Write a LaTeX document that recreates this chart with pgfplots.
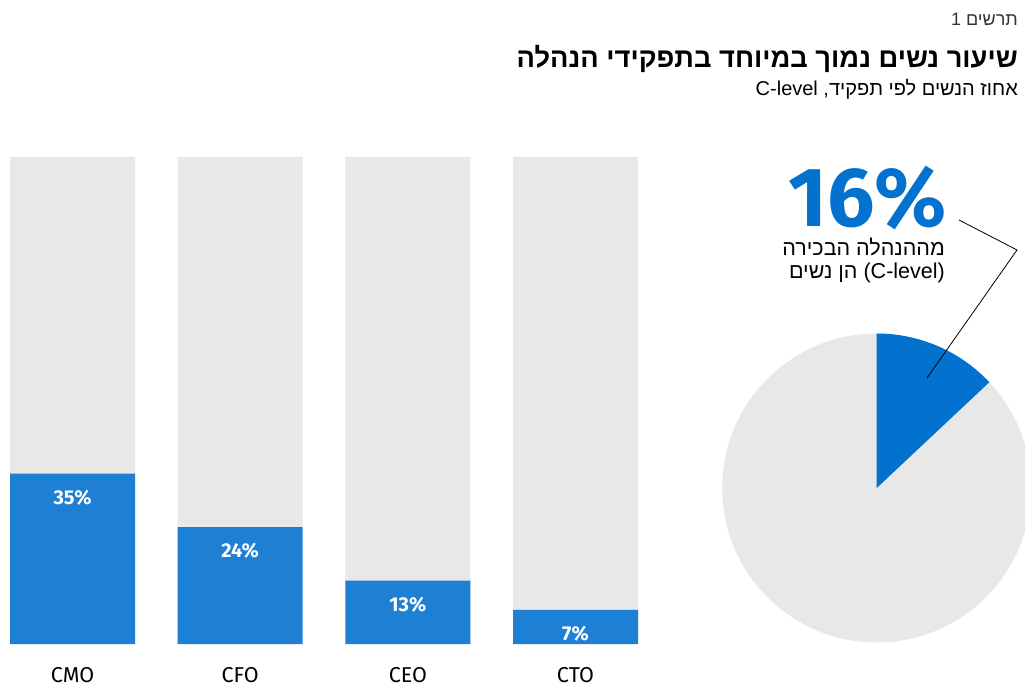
\documentclass[border=0pt]{standalone}
\usepackage{fontspec}
\setmainfont{Fira Sans}
\newfontfamily\heb[Script=Hebrew]{Liberation Sans}
\usepackage{pgfplots}
\pgfplotsset{compat=1.18}
\usepackage{pgfplotstable}
\TeXXeTstate=1

\definecolor{barblue}{RGB}{30,128,212}
\definecolor{pieblue}{RGB}{2,114,206}
\definecolor{bggrey}{RGB}{232,232,232}

% share of women by role
\pgfplotstableread{
x role women total
0 CMO 35 100
1 CFO 24 100
2 CEO 13 100
3 CTO 7 100
}\roles

% pie as drawn
\pgfplotstableread{
part share
women 13
men 87
}\pie

\begin{document}
\pgfplotstablegetelem{0}{share}\of\pie
\global\let\womenshare\pgfplotsretval
\begin{tikzpicture}[x=1pt,y=1pt]
\useasboundingbox (0,0) rectangle (1025,686);
\fill[white] (0,0) rectangle (1025,686);

\begin{axis}[
    at={(10pt,42pt)}, anchor=south west,
    width=628pt, height=487pt, scale only axis,
    xmin=-0.3728, xmax=3.3728, ymin=0, ymax=100,
    axis line style={draw=none}, major tick length=0pt,
    ytick=\empty, xtick=data,
    xticklabels from table={\roles}{role},
    xticklabel style={font=\fontsize{21.5}{26}\selectfont, anchor=base, yshift=-38pt},
    /pgf/number format/assume math mode=true,
    clip=false]
    \addplot[ybar, bar width=125pt, bar shift=0pt, fill=bggrey, draw=none]
        table[x=x, y=total] {\roles};
    \addplot[ybar, bar width=125pt, bar shift=0pt, fill=barblue, draw=none,
        nodes near coords={\pgfmathprintnumber{\pgfplotspointmeta}\%},
        every node near coord/.append style={anchor=center, yshift=-24pt,
            text=white, font=\fontsize{20}{24}\selectfont\bfseries}]
        table[x=x, y=women] {\roles};
\end{axis}

\begin{axis}[
    at={(722.2pt,43.5pt)}, anchor=south west,
    width=309pt, height=309pt, scale only axis,
    xmin=-1, xmax=1, ymin=-1, ymax=1,
    hide axis, clip=false]
    \fill[bggrey] (axis cs:0,0) circle[radius=1];
    \fill[pieblue] (axis cs:0,0) -- (axis cs:0,1)
        arc[start angle=90, delta angle=-3.6*\womenshare, radius=1] -- cycle;
\end{axis}

\draw[black, line width=0.8pt] (959,466) -- (1017,436) -- (927,308);

\node[anchor=base east, inner sep=0, text depth=0pt, text=pieblue,
      font=\fontsize{84}{84}\selectfont\bfseries] at (947,459) {16\%};
\node[anchor=base east, inner sep=0, font=\heb\fontsize{21.5}{24}\selectfont]
      at (945,430) {\beginR מההנהלה הבכירה\endR};
\node[anchor=base east, inner sep=0, font=\heb\fontsize{21.5}{24}\selectfont]
      at (945,407) {\beginR \beginL(C-level)\endL{} הן נשים\endR};

\node[anchor=base east, inner sep=0, text=black!80, font=\heb\fontsize{18}{22}\selectfont]
      at (1018,660) {\beginR תרשים 1\endR};
\node[anchor=base east, inner sep=0, font=\heb\bfseries\fontsize{27.3}{32}\selectfont]
      at (1018,618) {\beginR שיעור נשים נמוך במיוחד בתפקידי הנהלה\endR};
\node[anchor=base east, inner sep=0, font=\heb\fontsize{20}{23}\selectfont]
      at (1018,590) {\beginR אחוז הנשים לפי תפקיד, \beginL C-level\endL\endR};
\end{tikzpicture}
\end{document}
